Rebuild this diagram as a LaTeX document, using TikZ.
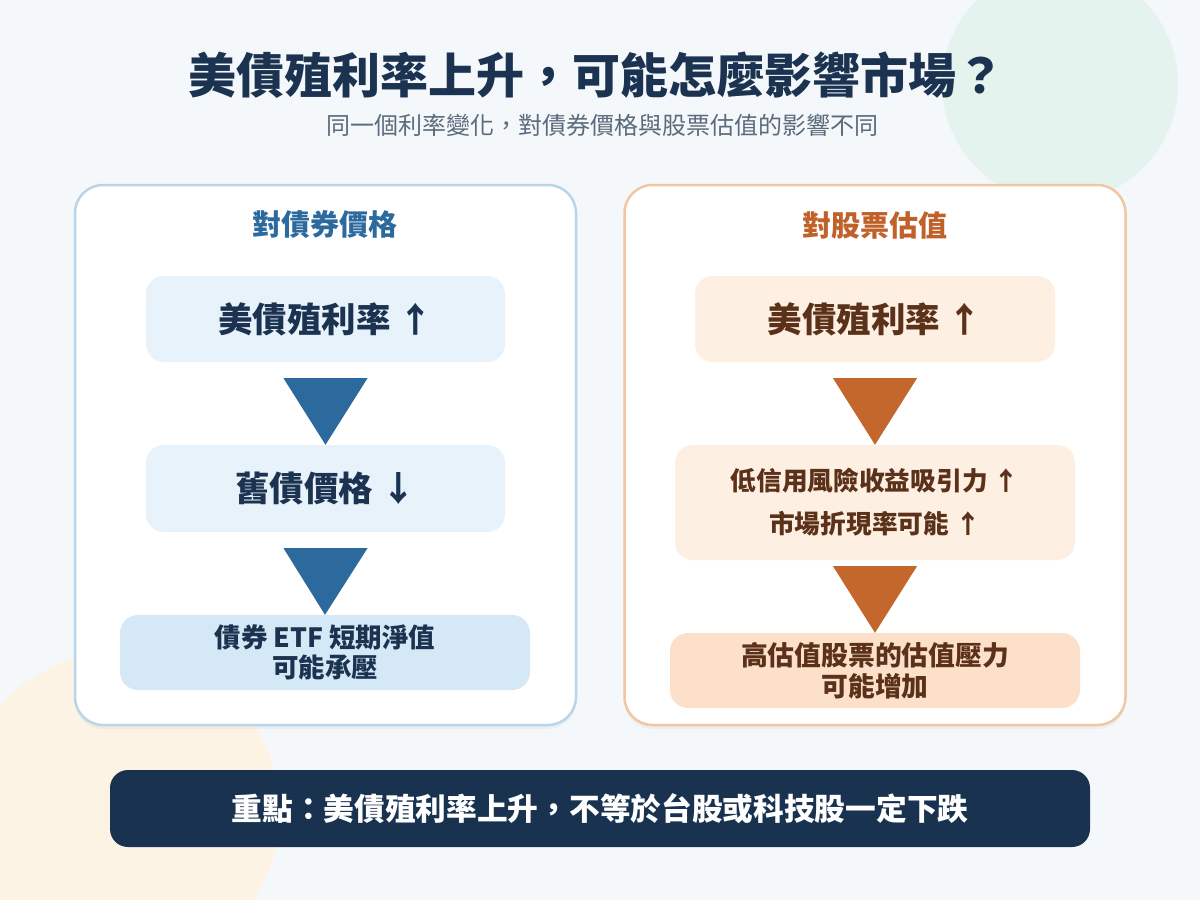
\documentclass[tikz,border=0pt]{standalone}
\usepackage{fontspec}
\setmainfont{Noto Sans CJK TC}
\usetikzlibrary{shadows,calc}
\definecolor{bgc}{HTML}{F4F8FB}
\definecolor{greenc}{HTML}{E4F3EE}
\definecolor{creamc}{HTML}{FDF3E4}
\definecolor{navy}{HTML}{1B3350}
\definecolor{barc}{HTML}{183250}
\definecolor{subgray}{HTML}{5B6B7B}
\definecolor{blue}{HTML}{2C6A9E}
\definecolor{blueborder}{HTML}{B8D5EA}
\definecolor{bluefill}{HTML}{E7F2FA}
\definecolor{bluefilldk}{HTML}{D5E8F5}
\definecolor{orange}{HTML}{C4672C}
\definecolor{orangehd}{HTML}{C0612A}
\definecolor{orangeborder}{HTML}{F1C7A0}
\definecolor{orangefill}{HTML}{FDEFE2}
\definecolor{orangefilldk}{HTML}{FCE0C9}
\definecolor{brown}{HTML}{5B3119}
\tikzset{
  panel/.style={rounded corners=28pt, fill=white, line width=2.5pt, minimum width=501pt, minimum height=540pt,
    drop shadow={opacity=0.07, shadow xshift=0pt, shadow yshift=-4pt}},
  stepbox/.style={rounded corners=18pt, inner sep=0pt, align=center, font=\bfseries},
}
\begin{document}
\begin{tikzpicture}[x=1pt,y=-1pt]
\useasboundingbox (0,0) rectangle (1200,900);
\fill[bgc] (0,0) rectangle (1200,900);
\begin{scope}
\clip (0,0) rectangle (1200,900);
\fill[greenc] (1060,84) circle (118);
\fill[creamc] (120,812) circle (160);
\end{scope}
% title
\node[font=\bfseries\fontsize{48}{52}\selectfont, text=navy] (title) at (596,75) {美債殖利率上升，可能怎麼影響市場？};
\node[font=\fontsize{24}{28}\selectfont, text=subgray] (sub) at (602,125) {同一個利率變化，對債券價格與股票估值的影響不同};
% panels
\node[panel, draw=blueborder] (lp) at (325.5,455) {};
\node[panel, draw=orangeborder] (rp) at (875,455) {};
\node[font=\bfseries\fontsize{29}{32}\selectfont, text=blue] (lh) at (325,225) {對債券價格};
\node[font=\bfseries\fontsize{29}{32}\selectfont, text=orangehd] (rh) at (875,225) {對股票估值};
% left column
\node[stepbox, fill=bluefill, text=navy, minimum width=359pt, minimum height=86pt, font=\bfseries\fontsize{34.5}{38}\selectfont] (l1) at (325.5,319) {美債殖利率 ↑};
\node[stepbox, fill=bluefill, text=navy, minimum width=359pt, minimum height=87pt, font=\bfseries\fontsize{34.5}{38}\selectfont] (l2) at (325.5,488.5) {舊債價格 ↓};
\node[stepbox, fill=bluefilldk, text=navy, minimum width=410pt, minimum height=75pt, font=\bfseries\fontsize{26.5}{30.5}\selectfont] (l3) at (325,652.5) {債券 ETF 短期淨值\\可能承壓};
\fill[blue] ($(l1.south)+(-42,16)$) -- ($(l1.south)+(42,16)$) -- (l2.north) -- cycle;
\fill[blue] ($(l2.south)+(-42,16)$) -- ($(l2.south)+(42,16)$) -- (l3.north) -- cycle;
% right column
\node[stepbox, fill=orangefill, text=brown, minimum width=360pt, minimum height=86pt, font=\bfseries\fontsize{34.5}{38}\selectfont] (r1) at (875,319) {美債殖利率 ↑};
\node[stepbox, fill=orangefill, text=brown, minimum width=400pt, minimum height=115pt, font=\bfseries\fontsize{25.7}{43}\selectfont] (r2) at (875,502.5) {低信用風險收益吸引力 ↑\\市場折現率可能 ↑};
\node[stepbox, fill=orangefilldk, text=brown, minimum width=410pt, minimum height=75pt, font=\bfseries\fontsize{26.8}{31}\selectfont] (r3) at (875,670.5) {高估值股票的估值壓力\\可能增加};
\fill[orange] ($(r1.south)+(-42,16)$) -- ($(r1.south)+(42,16)$) -- (r2.north) -- cycle;
\fill[orange] ($(r2.south)+(-42,6)$) -- ($(r2.south)+(42,6)$) -- (r3.north) -- cycle;
% bottom bar
\node[stepbox, fill=barc, text=white, minimum width=980pt, minimum height=77pt, font=\bfseries\fontsize{30.7}{34}\selectfont] (bar) at (600,808.5) {重點：美債殖利率上升，不等於台股或科技股一定下跌};
\end{tikzpicture}
\end{document}
